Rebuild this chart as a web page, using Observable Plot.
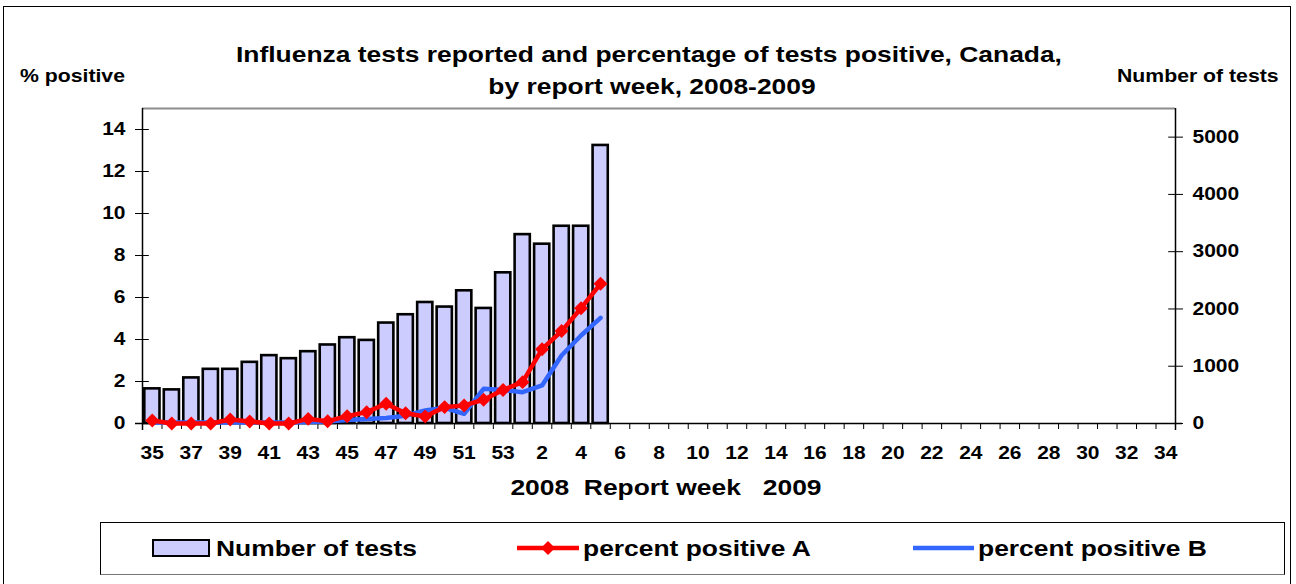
<!DOCTYPE html>
<html><head><meta charset="utf-8">
<script src="https://cdn.jsdelivr.net/npm/d3@7"></script>
<script src="https://cdn.jsdelivr.net/npm/@observablehq/plot@0.6"></script>
<style>
body{margin:0;background:#fff;font-family:"Liberation Sans",Arial,sans-serif;}
#wrap{position:relative;width:1296px;height:584px;overflow:hidden;background:#fff;}
#wrap svg.plot{position:absolute;left:0;top:0;}
.t{position:absolute;font-weight:bold;white-space:pre;color:#000;}
.c{transform:translateX(-50%) scaleX(1.2);}
.l{transform-origin:0 0;transform:scaleX(1.2);}
</style></head>
<body><div id="wrap"></div>
<script>
// ---- data ----
const weeks = [35,36,37,38,39,40,41,42,43,44,45,46,47,48,49,50,51,52,53,
  1,2,3,4,5,6,7,8,9,10,11,12,13,14,15,16,17,18,19,20,21,22,23,24,25,26,27,28,29,30,31,32,33,34];
const tests = [605,587,796,946,946,1068,1185,1132,1254,1371,1498,1451,1754,1899,2113,2033,2317,2009,2631,3298,3131,3444,3444,4855];
const pctA = [0.14,0,0,0,0.19,0.1,0,0,0.22,0.11,0.35,0.54,0.94,0.49,0.33,0.78,0.86,1.13,1.6,1.97,3.54,4.4,5.49,6.65];
const pctB = [0.05,0.05,0.05,0.05,0.05,0.05,0.05,0.05,0.07,0.1,0.17,0.22,0.26,0.37,0.62,0.75,0.46,1.65,1.6,1.49,1.81,3.24,4.19,5.03];
const pctTicks = [0,2,4,6,8,10,12,14];
const testTicks = [0,1000,2000,3000,4000,5000];
const pctMax = 15, testsMax = 5500;
const titleLines = ["Influenza tests reported and percentage of tests positive, Canada,", "by report week, 2008-2009"];
const leftTitle = "% positive";
const rightTitle = "Number of tests";
const xTitle = "2008  Report week   2009";
const seriesNames = ["Number of tests", "percent positive A", "percent positive B"];
const colors = {bar: "#ccccff", a: "#ff0000", b: "#3366ff"};

// ---- table ----
const k = pctMax / testsMax;
const rows = tests.map((v, i) => ({i, week: weeks[i], tests: v, a: pctA[i], b: pctB[i]}));
const labelIdx = d3.range(0, weeks.length, 2);

const plot = Plot.plot({
  width: 1296, height: 584,
  marginLeft: 142, marginRight: 121, marginTop: 108, marginBottom: 161,
  style: {fontFamily: "'Liberation Sans', Arial, sans-serif", fontWeight: "bold", fontSize: "17.5px", color: "#000", background: "transparent"},
  x: {type: "linear", domain: [0, weeks.length], axis: null},
  y: {domain: [0, pctMax], axis: null},
  marks: [
    Plot.ruleY([pctMax], {stroke: "#8c8c8c", strokeWidth: 2}),
    Plot.rectY(rows, {x1: "i", x2: d => d.i + 1, y: d => d.tests * k, insetLeft: 2.3, insetRight: 2.0,
      fill: colors.bar, stroke: "#000", strokeWidth: 2.6}),
    Plot.ruleY([0], {stroke: "#000", strokeWidth: 1.5, insetLeft: -7, insetRight: -7}),
    Plot.ruleX([0, weeks.length], {stroke: "#000", strokeWidth: 1.5, insetBottom: -7}),
    Plot.axisX(d3.range(0, weeks.length + 1), {tickSize: 6, tickFormat: () => "", label: null, strokeWidth: 1}),
    Plot.axisX(labelIdx.map(i => i + 0.5), {tickSize: 0, tickPadding: 23, tickFormat: d => String(weeks[d - 0.5]), label: null}),
    Plot.axisY(pctTicks, {anchor: "left", tickSize: 7, tickPadding: 10, label: null}),
    Plot.ruleY(pctTicks, {x1: 0, x2: 0.35, stroke: "#000"}),
    Plot.axisY(testTicks, {anchor: "right", y: d => d * k, tickSize: 7, tickPadding: 10, tickFormat: d => String(d), label: null}),
    Plot.ruleY(testTicks, {y: d => d * k, x1: weeks.length - 0.35, x2: weeks.length, stroke: "#000"}),
    Plot.line(rows, {x: d => d.i + 0.5, y: "b", stroke: colors.b, strokeWidth: 4.5}),
    Plot.line(rows, {x: d => d.i + 0.5, y: "a", stroke: colors.a, strokeWidth: 4.5}),
    Plot.dot(rows, {x: d => d.i + 0.5, y: "a", symbol: "diamond2", r: 6.3, fill: colors.a, stroke: null})
  ]
});
plot.classList.add("plot");
// widen text glyphs horizontally to match the reference rendering
plot.querySelectorAll("text").forEach(t => {
  const tr = t.getAttribute("transform");
  if (tr) t.setAttribute("transform", tr + " scale(1.2,1)");
});
const wrap = document.getElementById("wrap");
wrap.appendChild(plot);

function addText(str, x, baseline, fs, mode) {
  const d = document.createElement("div");
  d.className = "t " + mode;
  d.textContent = str;
  d.style.fontSize = fs + "px";
  d.style.lineHeight = fs + "px";
  d.style.left = x + "px";
  d.style.top = (baseline - 0.8465 * fs) + "px";
  wrap.appendChild(d);
  return d;
}
// outer frame
const frame = document.createElement("div");
Object.assign(frame.style, {position: "absolute", left: "3px", top: "6px", width: "1288px", height: "620px", border: "1.5px solid #000", boxSizing: "border-box"});
wrap.appendChild(frame);

addText(titleLines[0], 649, 63, 22, "c");
addText(titleLines[1], 652, 95, 22, "c");
addText(leftTitle, 20, 82.7, 17.7, "l");
addText(rightTitle, 1117, 82.7, 17.7, "l");
addText(xTitle, 666, 496, 22, "c");

// legend
const lg = document.createElement("div");
Object.assign(lg.style, {position: "absolute", left: "100px", top: "522px", width: "1185px", height: "53px", border: "1.5px solid #000", boxSizing: "border-box", borderBottomColor: "#777"});
wrap.appendChild(lg);
const sw = document.createElement("div");
Object.assign(sw.style, {position: "absolute", left: "152px", top: "539px", width: "58px", height: "18px", background: colors.bar, border: "2.5px solid #000", boxSizing: "border-box"});
wrap.appendChild(sw);
addText(seriesNames[0], 216, 557, 22, "l");
const ns = "http://www.w3.org/2000/svg";
function legLine(x0, x1, color, diamond) {
  const s = document.createElementNS(ns, "svg");
  s.setAttribute("width", 1296); s.setAttribute("height", 584);
  s.style.position = "absolute"; s.style.left = "0"; s.style.top = "0";
  const ln = document.createElementNS(ns, "line");
  ln.setAttribute("x1", x0); ln.setAttribute("x2", x1); ln.setAttribute("y1", 548); ln.setAttribute("y2", 548);
  ln.setAttribute("stroke", color); ln.setAttribute("stroke-width", 4.5);
  s.appendChild(ln);
  if (diamond) {
    const c = (x0 + x1) / 2, h = 7;
    const p = document.createElementNS(ns, "path");
    p.setAttribute("d", `M${c},${548 - h}L${c + h},548L${c},${548 + h}L${c - h},548Z`);
    p.setAttribute("fill", color);
    s.appendChild(p);
  }
  wrap.appendChild(s);
}
legLine(517, 579, colors.a, true);
addText(seriesNames[1], 583, 557, 22, "l");
legLine(913, 974, colors.b, false);
addText(seriesNames[2], 978, 557, 22, "l");
</script></body></html>
